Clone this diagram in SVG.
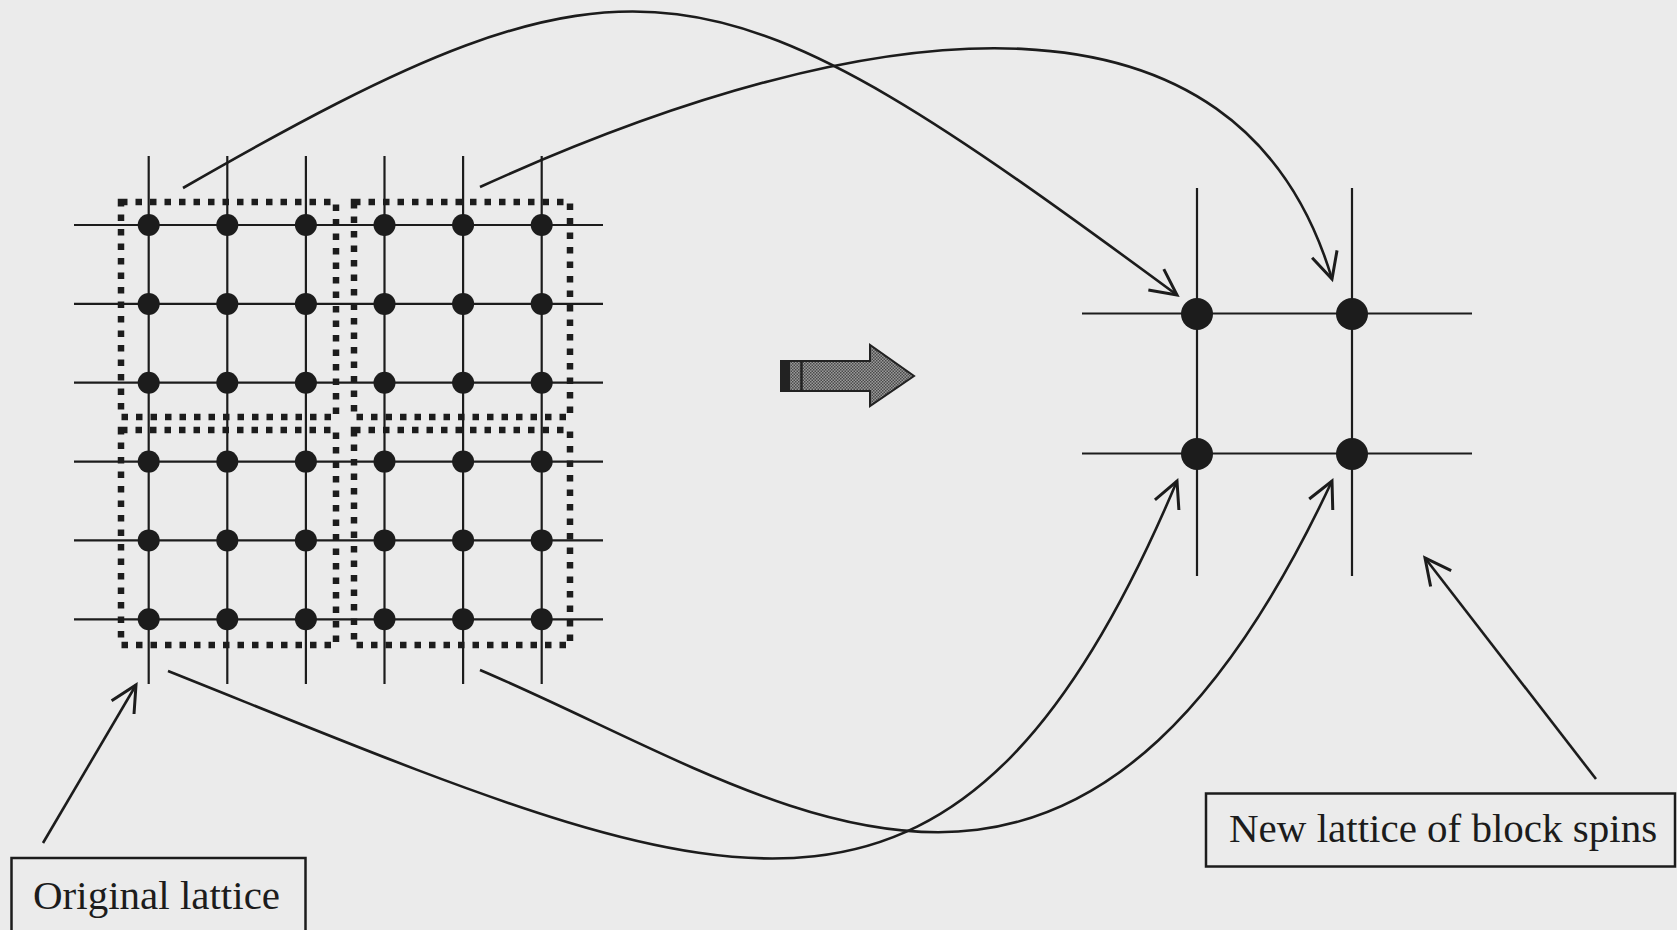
<svg xmlns="http://www.w3.org/2000/svg" width="1677" height="930" viewBox="0 0 1677 930">
<defs>
<style>
.ln{stroke:#1c1c1c;stroke-width:2.2;fill:none}
.blk{stroke:#1c1c1c;stroke-width:6.5;stroke-dasharray:6.5 8;fill:none}
.dot{fill:#1c1c1c}
.cv{stroke:#1c1c1c;stroke-width:2.6;fill:none;marker-end:url(#ah)}
.box{fill:none;stroke:#1c1c1c;stroke-width:2.5}
.lbl{font-family:"Liberation Serif","Times New Roman",serif;font-size:41px;fill:#1c1c1c}
</style>
<marker id="ah" markerUnits="userSpaceOnUse" markerWidth="40" markerHeight="40" viewBox="-30 -20 40 40" refX="0" refY="0" orient="auto" overflow="visible">
<path d="M-26,-13 L0,0 L-26,13" fill="none" stroke="#1c1c1c" stroke-width="3" stroke-linejoin="miter"/>
</marker>
<pattern id="stip" width="3" height="3" patternUnits="userSpaceOnUse">
<rect width="3" height="3" fill="#9a9a9a"/>
<rect width="1.5" height="1.5" fill="#4a4a4a"/>
<rect x="1.5" y="1.5" width="1.5" height="1.5" fill="#4a4a4a"/>
</pattern>
</defs>
<rect width="1677" height="930" fill="#ebebeb"/>

<g id="original-lattice">
<g class="ln">
<line x1="148.7" y1="156" x2="148.7" y2="684"/>
<line x1="227.3" y1="156" x2="227.3" y2="684"/>
<line x1="305.9" y1="156" x2="305.9" y2="684"/>
<line x1="384.5" y1="156" x2="384.5" y2="684"/>
<line x1="463.1" y1="156" x2="463.1" y2="684"/>
<line x1="541.7" y1="156" x2="541.7" y2="684"/>
<line x1="74" y1="225" x2="603" y2="225"/>
<line x1="74" y1="303.9" x2="603" y2="303.9"/>
<line x1="74" y1="382.7" x2="603" y2="382.7"/>
<line x1="74" y1="461.6" x2="603" y2="461.6"/>
<line x1="74" y1="540.4" x2="603" y2="540.4"/>
<line x1="74" y1="619.3" x2="603" y2="619.3"/>
</g>
<g class="dot">
<circle cx="148.7" cy="225" r="11"/><circle cx="227.3" cy="225" r="11"/><circle cx="305.9" cy="225" r="11"/><circle cx="384.5" cy="225" r="11"/><circle cx="463.1" cy="225" r="11"/><circle cx="541.7" cy="225" r="11"/>
<circle cx="148.7" cy="303.9" r="11"/><circle cx="227.3" cy="303.9" r="11"/><circle cx="305.9" cy="303.9" r="11"/><circle cx="384.5" cy="303.9" r="11"/><circle cx="463.1" cy="303.9" r="11"/><circle cx="541.7" cy="303.9" r="11"/>
<circle cx="148.7" cy="382.7" r="11"/><circle cx="227.3" cy="382.7" r="11"/><circle cx="305.9" cy="382.7" r="11"/><circle cx="384.5" cy="382.7" r="11"/><circle cx="463.1" cy="382.7" r="11"/><circle cx="541.7" cy="382.7" r="11"/>
<circle cx="148.7" cy="461.6" r="11"/><circle cx="227.3" cy="461.6" r="11"/><circle cx="305.9" cy="461.6" r="11"/><circle cx="384.5" cy="461.6" r="11"/><circle cx="463.1" cy="461.6" r="11"/><circle cx="541.7" cy="461.6" r="11"/>
<circle cx="148.7" cy="540.4" r="11"/><circle cx="227.3" cy="540.4" r="11"/><circle cx="305.9" cy="540.4" r="11"/><circle cx="384.5" cy="540.4" r="11"/><circle cx="463.1" cy="540.4" r="11"/><circle cx="541.7" cy="540.4" r="11"/>
<circle cx="148.7" cy="619.3" r="11"/><circle cx="227.3" cy="619.3" r="11"/><circle cx="305.9" cy="619.3" r="11"/><circle cx="384.5" cy="619.3" r="11"/><circle cx="463.1" cy="619.3" r="11"/><circle cx="541.7" cy="619.3" r="11"/>
</g>
</g>

<g id="blocks">
<rect class="blk" x="121" y="202" width="215" height="215"/>
<rect class="blk" x="354" y="202" width="216" height="215"/>
<rect class="blk" x="121" y="430" width="215" height="215"/>
<rect class="blk" x="354" y="430" width="216" height="215"/>
</g>

<g id="block-arrow">
<path d="M781,361 L870,361 L870,345 L914,376 L870,406 L870,391 L781,391 Z" fill="url(#stip)" stroke="#222" stroke-width="2"/>
<rect x="781" y="361" width="9" height="30" fill="#222"/>
<line x1="801.5" y1="361" x2="801.5" y2="391" stroke="#222" stroke-width="2.5"/>
</g>

<g id="new-lattice">
<g class="ln">
<line x1="1197" y1="188" x2="1197" y2="576"/>
<line x1="1352" y1="188" x2="1352" y2="576"/>
<line x1="1082" y1="313.5" x2="1472" y2="313.5"/>
<line x1="1082" y1="453.5" x2="1472" y2="453.5"/>
</g>
<g class="dot">
<circle cx="1197" cy="314" r="16"/>
<circle cx="1352" cy="314" r="16"/>
<circle cx="1197" cy="454" r="16"/>
<circle cx="1352" cy="454" r="16"/>
</g>
</g>

<g id="connectors">
<path class="cv" d="M183,188 C640,-75 712,-48 1177,295"/>
<path class="cv" d="M480,187 C880,5 1240,-30 1332,279"/>
<path class="cv" d="M168,671 C712,888 952,1016 1177,481"/>
<path class="cv" d="M480,670 C785,800 1073,1035 1332,481"/>
<path class="cv" d="M43,843 L136,685"/>
<path class="cv" d="M1596,779 L1425,558"/>
</g>

<g id="label-original">
<rect class="box" x="11.5" y="858" width="294" height="90"/>
<text class="lbl" x="33" y="909">Original lattice</text>
</g>

<g id="label-new">
<rect class="box" x="1206" y="793.5" width="469" height="73"/>
<text class="lbl" x="1229" y="842">New lattice of block spins</text>
</g>
</svg>
